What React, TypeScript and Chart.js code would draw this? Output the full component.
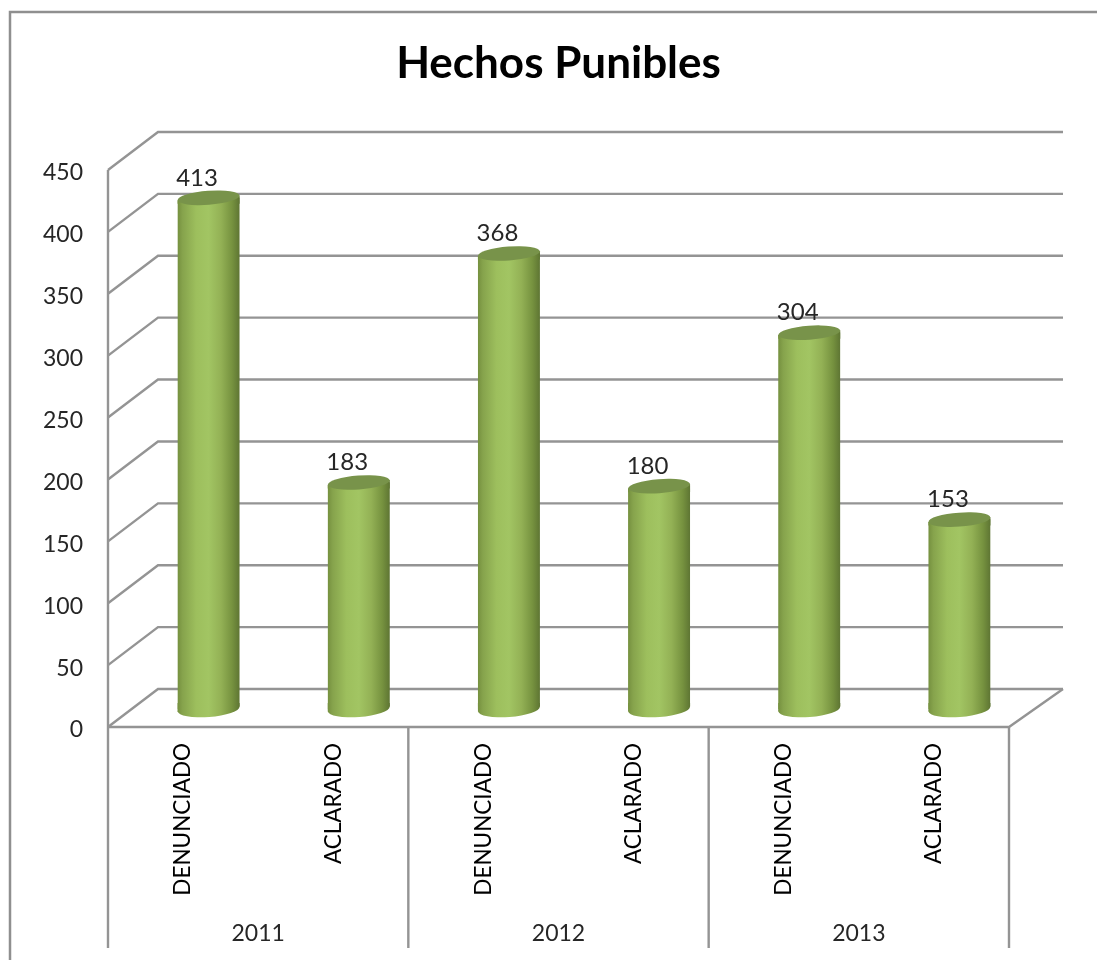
import React, { useEffect, useRef } from "react";
import { Chart, registerables } from "chart.js";

Chart.register(...registerables);

const categories = ["DENUNCIADO", "ACLARADO", "DENUNCIADO", "ACLARADO", "DENUNCIADO", "ACLARADO"];
const years = ["2011", "2012", "2013"];
const values = [413, 183, 368, 180, 304, 153];
const yTicks = [0, 50, 100, 150, 200, 250, 300, 350, 400, 450];

const FONT = "Lato, Carlito, Calibri, sans-serif";
const GRID = "#949494";
const DEPTH_X = 50;
const DEPTH_Y = -38;
const BAR_DX = 25.5;
const BAR_DY = -18;
const BAR_W = 62;
const RX = 31;
const RY = 7;
const TILT = -0.075;
const SLOPE = 2.4;

function sideGradient(ctx: CanvasRenderingContext2D, cx: number) {
  const g = ctx.createLinearGradient(cx - RX, 0, cx + RX, 0);
  g.addColorStop(0, "#75903f");
  g.addColorStop(0.08, "#86a34c");
  g.addColorStop(0.3, "#9dbf5d");
  g.addColorStop(0.5, "#a2c563");
  g.addColorStop(0.7, "#93b155");
  g.addColorStop(0.88, "#76923f");
  g.addColorStop(1, "#5e7533");
  return g;
}

const cylinderPlugin = {
  id: "cylinder3d",
  beforeDraw(chart: any) {
    const { ctx, width, height } = chart;
    ctx.save();
    ctx.fillStyle = "#ffffff";
    ctx.fillRect(0, 0, width, height);
    ctx.strokeStyle = "#8f8f8f";
    ctx.lineWidth = 2.5;
    ctx.beginPath();
    ctx.moveTo(10, height);
    ctx.lineTo(10, 12);
    ctx.lineTo(width, 12);
    ctx.stroke();
    ctx.restore();
  },
  beforeDatasetsDraw(chart: any) {
    const { ctx, chartArea, scales } = chart;
    const { left, right } = chartArea;
    const y0 = scales.y.getPixelForValue(0);
    ctx.save();
    ctx.strokeStyle = GRID;
    ctx.lineWidth = 2.4;
    ctx.lineJoin = "miter";
    yTicks.forEach((t) => {
      const y = scales.y.getPixelForValue(t);
      ctx.beginPath();
      ctx.moveTo(left, y);
      ctx.lineTo(left + DEPTH_X, y + DEPTH_Y);
      ctx.lineTo(right + DEPTH_X + 4, y + DEPTH_Y);
      ctx.stroke();
    });
    // floor front edge and right side
    ctx.beginPath();
    ctx.moveTo(left, y0);
    ctx.lineTo(right, y0);
    ctx.lineTo(right + DEPTH_X + 4, y0 + DEPTH_Y);
    ctx.stroke();
    // axis verticals
    const bottom = scales.x2.bottom;
    ctx.beginPath();
    ctx.moveTo(left, scales.y.getPixelForValue(450));
    ctx.lineTo(left, bottom);
    years.forEach((_, i) => {
      const x = left + ((i + 1) * (right - left)) / years.length;
      ctx.moveTo(x, y0);
      ctx.lineTo(x, bottom);
    });
    ctx.stroke();
    ctx.restore();

    const bars = chart.getDatasetMeta(0).data;
    ctx.save();
    ctx.translate(BAR_DX, BAR_DY);
    bars.forEach((bar: any) => {
      const cx = bar.x;
      const b = y0;
      ctx.fillStyle = sideGradient(ctx, cx);
      ctx.beginPath();
      ctx.ellipse(cx, b, RX, RY + 1, TILT, 0, Math.PI * 2);
      ctx.fill();
      ctx.beginPath();
      ctx.moveTo(cx - RX, b - 6);
      ctx.lineTo(cx + RX, b - 6);
      ctx.lineTo(cx + RX, b - SLOPE);
      ctx.lineTo(cx - RX, b + SLOPE);
      ctx.closePath();
      ctx.fill();
    });
    // clip the square bar ends to the tilted cylinder ends
    ctx.beginPath();
    bars.forEach((bar: any) => {
      ctx.moveTo(bar.x - RX, bar.y + SLOPE);
      ctx.lineTo(bar.x + RX, bar.y - SLOPE);
      ctx.lineTo(bar.x + RX, y0 - SLOPE);
      ctx.lineTo(bar.x - RX, y0 + SLOPE);
      ctx.closePath();
    });
    ctx.clip();
  },
  afterDatasetsDraw(chart: any) {
    const { ctx } = chart;
    ctx.restore();
    const bars = chart.getDatasetMeta(0).data;
    ctx.save();
    ctx.translate(BAR_DX, BAR_DY);
    bars.forEach((bar: any) => {
      const cx = bar.x;
      const t = bar.y;
      ctx.fillStyle = sideGradient(ctx, cx);
      ctx.beginPath();
      ctx.moveTo(cx - RX, t + SLOPE);
      ctx.lineTo(cx + RX, t - SLOPE);
      ctx.lineTo(cx + RX, t + 6);
      ctx.lineTo(cx - RX, t + 6);
      ctx.closePath();
      ctx.fill();
      ctx.fillStyle = "#78934a";
      ctx.beginPath();
      ctx.ellipse(cx, t, RX, RY, TILT, 0, Math.PI * 2);
      ctx.fill();
    });
    ctx.fillStyle = "#262626";
    ctx.font = `24px ${FONT}`;
    ctx.textAlign = "center";
    ctx.textBaseline = "middle";
    bars.forEach((bar: any, i: number) => {
      ctx.fillText(String(values[i]), bar.x - 11.5, bar.y - 20);
    });
    ctx.restore();
  },
};

export default function App() {
  const ref = useRef<HTMLCanvasElement>(null);
  useEffect(() => {
    document.body.style.margin = "0";
    const canvas = ref.current!;
    const chart = new Chart(canvas, {
      type: "bar",
      data: {
        labels: categories,
        datasets: [
          {
            data: values,
            barThickness: BAR_W,
            backgroundColor: (c: any) => {
              const x = c.chart.scales?.x;
              const px = x && typeof c.dataIndex === "number" ? x.getPixelForValue(c.dataIndex) : NaN;
              if (!Number.isFinite(px)) return "#9bbb59";
              return sideGradient(c.chart.ctx, px);
            },
            borderWidth: 0,
            clip: false,
          } as any,
        ],
      },
      plugins: [cylinderPlugin],
      options: {
        animation: false,
        responsive: false,
        events: [],
        layout: { padding: { left: 0, right: 88, top: 0, bottom: 12 } },
        plugins: {
          legend: { display: false },
          tooltip: { enabled: false },
          title: {
            display: true,
            text: "Hechos Punibles",
            fullSize: false,
            color: "#000000",
            font: { family: FONT, size: 44, weight: "bold" },
            padding: { top: 37, bottom: 80.2 },
          },
        },
        scales: {
          y: {
            min: 0,
            max: 450,
            border: { display: false },
            grid: { display: false },
            ticks: {
              stepSize: 50,
              color: "#262626",
              padding: 17,
              font: { family: FONT, size: 23, lineHeight: 0.26 },
              // a blank first line lowers the label a little onto its gridline
              callback: (v: any) => ["", String(v)],
            },
            afterFit: (s: any) => {
              s.width = 108;
            },
          },
          x: {
            position: "bottom",
            offset: true,
            weight: 0,
            border: { display: false },
            grid: { display: false },
            ticks: {
              autoSkip: false,
              minRotation: 90,
              maxRotation: 90,
              padding: 8,
              color: "#000000",
              font: { family: FONT, size: 22.5 },
            },
            afterFit: (s: any) => {
              s.height = 182;
            },
          },
          x2: {
            type: "category",
            axis: "x",
            position: "bottom",
            labels: years,
            offset: true,
            weight: 1,
            border: { display: false },
            grid: { display: false },
            ticks: {
              padding: 3,
              color: "#262626",
              font: { family: FONT, size: 23 },
            },
            afterFit: (s: any) => {
              s.height = 39;
            },
          },
        },
      } as any,
    });
    return () => chart.destroy();
  }, []);
  return (
    <canvas
      ref={ref}
      width={1097}
      height={960}
      style={{ display: "block", width: 1097, height: 960, filter: "blur(0.5px)" }}
    />
  );
}
